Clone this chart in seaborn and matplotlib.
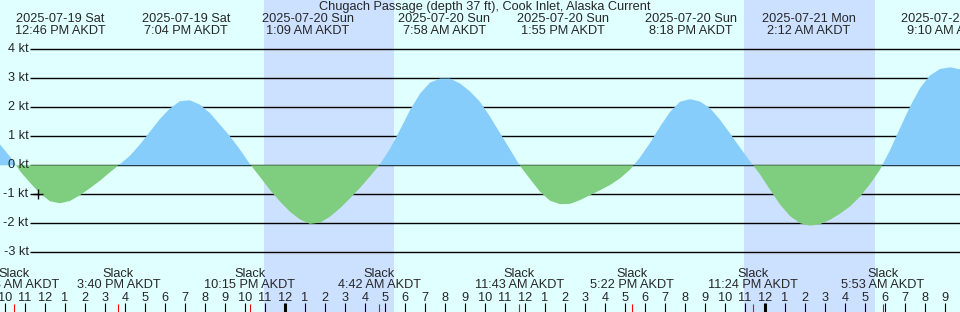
import numpy as np
import pandas as pd
import matplotlib
matplotlib.use("Agg")
import matplotlib.pyplot as plt
import seaborn as sns

# ---------------- data ----------------
TITLE = "Chugach Passage (depth 37 ft), Cook Inlet, Alaska Current"
SAMPLE_START = "2025-07-19 09:45"   # half-hourly readings of the current (knots)
speed_kt = [
    0.72, 0.30, -0.20, -0.60, -0.97, -1.24, -1.31, -1.23, -1.03, -0.79,
    -0.53, -0.24, 0.04, 0.33, 0.72, 1.16, 1.60, 1.96, 2.21, 2.24,
    2.09, 1.80, 1.40, 1.00, 0.54, 0.04, -0.40, -0.85, -1.25, -1.60,
    -1.87, -2.02, -1.98, -1.77, -1.48, -1.14, -0.78, -0.38, 0.03, 0.57,
    1.22, 1.90, 2.47, 2.85, 2.99, 2.99, 2.82, 2.55, 2.19, 1.68,
    1.11, 0.55, -0.02, -0.47, -0.91, -1.22, -1.34, -1.33, -1.20, -1.03,
    -0.86, -0.68, -0.45, -0.15, 0.27, 0.77, 1.33, 1.84, 2.19, 2.28,
    2.20, 1.97, 1.57, 1.10, 0.61, 0.14, -0.31, -0.84, -1.35, -1.75,
    -2.00, -2.08, -2.03, -1.88, -1.67, -1.42, -1.08, -0.65, -0.15, 0.52,
    1.28, 2.02, 2.66, 3.10, 3.32, 3.38, 3.31,
]

extreme_times = ["2025-07-19 12:46", "2025-07-19 19:04", "2025-07-20 01:09",
                 "2025-07-20 07:58", "2025-07-20 13:55", "2025-07-20 20:18",
                 "2025-07-21 02:12", "2025-07-21 09:10"]
extreme_dates = ["2025-07-19 Sat", "2025-07-19 Sat", "2025-07-20 Sun",
                 "2025-07-20 Sun", "2025-07-20 Sun", "2025-07-20 Sun",
                 "2025-07-21 Mon", "2025-07-21 Mon"]
extreme_labels = ["12:46 PM AKDT", "7:04 PM AKDT", "1:09 AM AKDT",
                  "7:58 AM AKDT", "1:55 PM AKDT", "8:18 PM AKDT",
                  "2:12 AM AKDT", "9:10 AM AKDT"]

slack_times = ["2025-07-19 10:28", "2025-07-19 15:40", "2025-07-19 22:15",
               "2025-07-20 04:42", "2025-07-20 11:43", "2025-07-20 17:22",
               "2025-07-20 23:24", "2025-07-21 05:53"]
slack_labels = ["10:28 AM AKDT", "3:40 PM AKDT", "10:15 PM AKDT",
                "4:42 AM AKDT", "11:43 AM AKDT", "5:22 PM AKDT",
                "11:24 PM AKDT", "5:53 AM AKDT"]

night_starts = ["2025-07-19 22:57", "2025-07-20 22:57"]
night_ends = ["2025-07-20 05:27", "2025-07-21 05:30"]

speed_ticks = [4, 3, 2, 1, 0, -1, -2, -3]
speed_tick_labels = ["4 kt", "3 kt", "2 kt", "1 kt", "0 kt", "-1 kt", "-2 kt", "-3 kt"]

mark_time = "2025-07-19 11:39"
mark_value = -1.0

# ---------------- helpers ----------------
REF = pd.Timestamp("2025-07-20 00:00")


def hours(ts):
    return (pd.to_datetime(ts) - REF) / pd.Timedelta(hours=1)


X0_H = hours(SAMPLE_START)          # left edge of the chart (hours)
PX_PER_H = 20.0
ZERO_PX = 165.3
PX_PER_KT = 29.0
W, H = 960, 312


def px2h(x):
    return X0_H + x / PX_PER_H


def py2v(y):
    return (ZERO_PX - y) / PX_PER_KT


t_hours = hours(pd.date_range(SAMPLE_START, periods=len(speed_kt), freq="30min")).to_numpy()
df = pd.DataFrame({"t": t_hours, "speed": np.array(speed_kt)})

# ---------------- style ----------------
sns.set_style("white")
plt.rcParams["font.family"] = ["Liberation Sans", "DejaVu Sans"]
FS = 9.2

BG = "#E0FFFF"
NIGHT = "#CCE0FF"
FLOOD = "#87CDFB"
EBB = "#7FCE7F"

fig = plt.figure(figsize=(W / 100, H / 100), dpi=100, facecolor=BG)
ax = fig.add_axes([0, 0, 1, 1])
ax.set_facecolor(BG)
ax.set_xlim(px2h(0), px2h(W))
ax.set_ylim(py2v(H), py2v(0))
ax.set_axis_off()

# night shading
for s, e in zip(night_starts, night_ends):
    ax.axvspan(hours(s), hours(e), color=NIGHT, lw=0, zorder=0)

# grid lines
ax.hlines(speed_ticks, px2h(30), px2h(W), color="black", lw=1.0, zorder=1)
for val, lab in zip(speed_ticks, speed_tick_labels):
    ax.text(px2h(28.5), val, lab, ha="right", va="center", fontsize=FS, zorder=5)

# current curve
sns.lineplot(data=df, x="t", y="speed", ax=ax, lw=0, legend=False)
ax.fill_between(df["t"], 0, df["speed"], where=df["speed"] >= 0, interpolate=True,
                color=FLOOD, lw=0, zorder=2)
ax.fill_between(df["t"], 0, df["speed"], where=df["speed"] <= 0, interpolate=True,
                color=EBB, lw=0, zorder=2)

# marker cross
ax.plot([hours(mark_time)], [mark_value], marker="+", color="black", ms=7.5, mew=1.0,
        zorder=6)

# title
ax.text(px2h(485), py2v(7), TITLE, ha="center", va="center", fontsize=FS, zorder=5)

# extreme labels at top
for t, d, lab in zip(extreme_times, extreme_dates, extreme_labels):
    h = hours(t)
    ax.text(h, py2v(19), d, ha="center", va="center", fontsize=FS, zorder=5)
    ax.text(h, py2v(31), lab, ha="center", va="center", fontsize=FS, zorder=5)

# slack labels at bottom
for t, lab in zip(slack_times, slack_labels):
    h = hours(t)
    ax.text(h, py2v(274), "Slack", ha="center", va="center", fontsize=FS, zorder=5)
    ax.text(h, py2v(285.5), lab, ha="center", va="center", fontsize=FS, zorder=5)
    ax.vlines(h, py2v(H), py2v(304.3), color="red", lw=0.8, zorder=5)

# hour ticks
for hr in range(int(np.ceil(px2h(0))), int(np.floor(px2h(W))) + 1):
    lab = str(hr % 12 if hr % 12 else 12)
    ax.text(hr, py2v(297.8), lab, ha="center", va="center", fontsize=FS, zorder=5)
    midnight = (hr % 24 == 0)
    ax.vlines(hr, py2v(H), py2v(303.3), color="black",
              lw=2.2 if midnight else 0.8, zorder=5)

fig.savefig("out.png", dpi=100, facecolor=BG)
